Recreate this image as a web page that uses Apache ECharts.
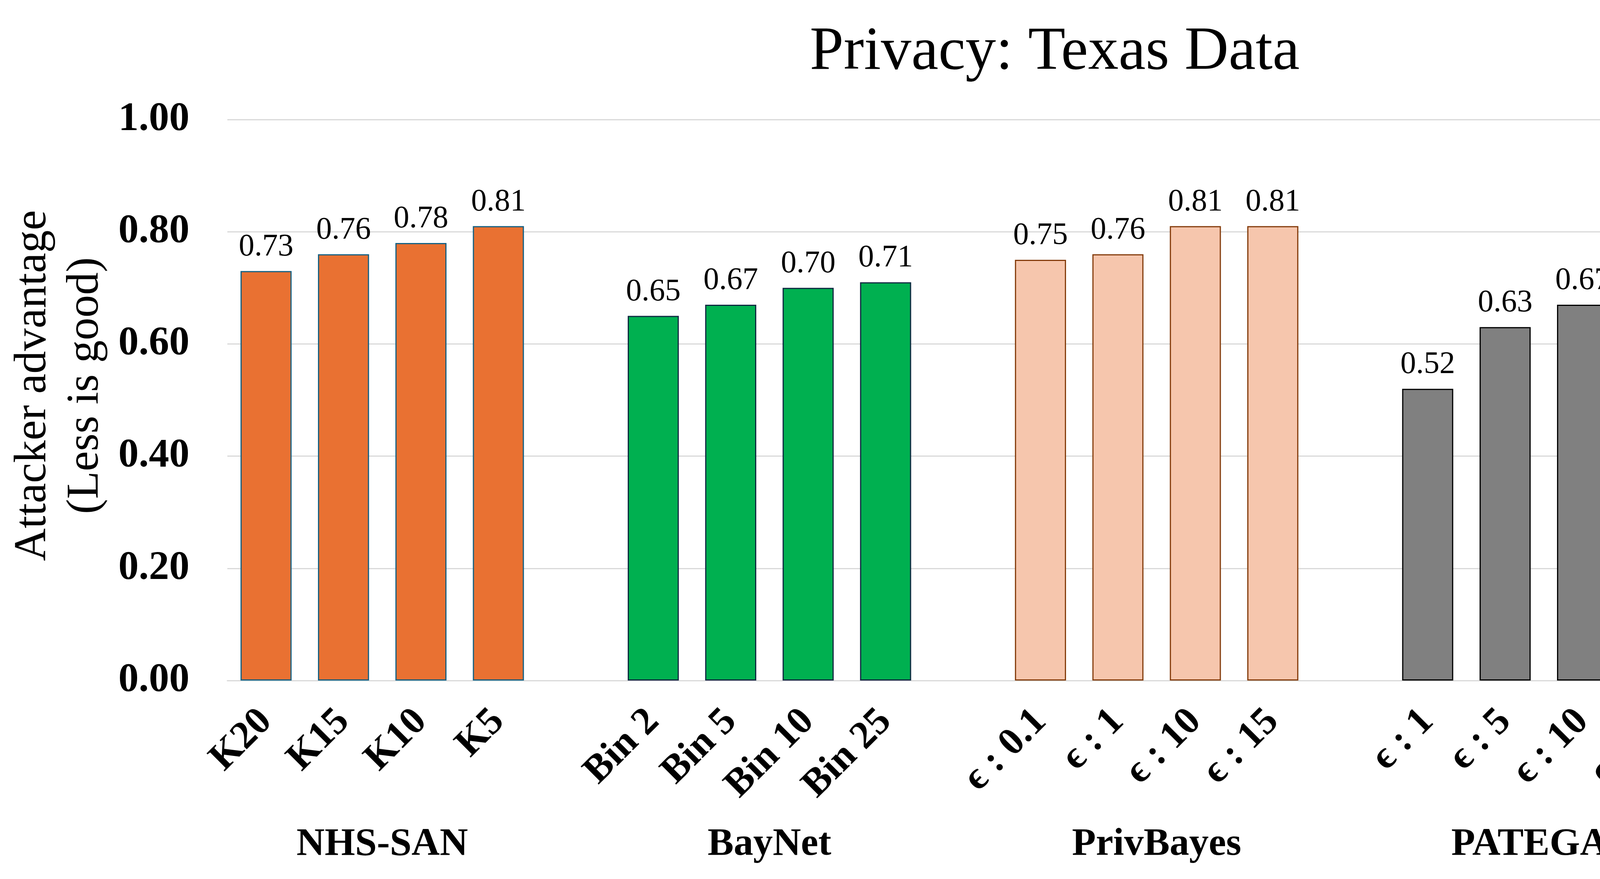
<!DOCTYPE html>
<html>
<head>
<meta charset="utf-8">
<script src="https://cdn.jsdelivr.net/npm/echarts@6/dist/echarts.min.js"></script>
<style>
html,body{margin:0;padding:0;background:#fff;}
#chart{width:5400px;height:2250px;}
</style>
</head>
<body>
<div id="chart"></div>
<script>
// ---- data ----
const categories = [
  'K20','K15','K10','K5','',
  'Bin 2','Bin 5','Bin 10','Bin 25','',
  'ϵ : 0.1','ϵ : 1','ϵ : 10','ϵ : 15','',
  'ϵ : 1','ϵ : 5','ϵ : 10','ϵ : 15','',
  'ts100','ts500','ts1000','ts1500'
];
const groupNames = ['NHS-SAN','BayNet','PrivBayes','PATEGAN','DDPM'];
const nhsSanValues    = [0.73, 0.76, 0.78, 0.81];
const bayNetValues    = [0.65, 0.67, 0.70, 0.71];
const privBayesValues = [0.75, 0.76, 0.81, 0.81];
const pateganValues   = [0.52, 0.63, 0.67, 0.67];
const ddpmValues      = [0.52, 0.50, 0.51, 0.51];
const nhsSanLabels    = ['0.73','0.76','0.78','0.81'];
const bayNetLabels    = ['0.65','0.67','0.70','0.71'];
const privBayesLabels = ['0.75','0.76','0.81','0.81'];
const pateganLabels   = ['0.52','0.63','0.67','0.67'];
const ddpmLabels      = ['0.52','0.5','0.51','0.51'];
const groupCenters = [1.5, 6.5, 11.5, 16.5, 21.5];

// ---- styles ----
const FONT = "'Liberation Serif', 'DejaVu Serif', serif";
const groupStyles = [
  {color:'#E97132', border:'#156082'},
  {color:'#00B050', border:'#0E2841'},
  {color:'#F6C6AD', border:'#843C0C'},
  {color:'#808080', border:'#000000'},
  {color:'#156082', border:'#0E2841'}
];
const groupValues = [nhsSanValues, bayNetValues, privBayesValues, pateganValues, ddpmValues];
const groupLabels = [nhsSanLabels, bayNetLabels, privBayesLabels, pateganLabels, ddpmLabels];

const series = groupValues.map(function (vals, g) {
  const data = categories.map(function () { return null; });
  vals.forEach(function (v, i) { data[g * 5 + i] = v; });
  return {
    name: groupNames[g],
    type: 'bar',
    stack: 'all',
    barWidth: '66%',
    data: data,
    itemStyle: {color: groupStyles[g].color, borderColor: groupStyles[g].border, borderWidth: 3},
    label: {
      show: true,
      position: 'top',
      distance: 21,
      fontFamily: FONT,
      fontSize: 80,
      color: '#000',
      formatter: function (p) { return groupLabels[g][p.dataIndex - g * 5]; }
    },
    emphasis: {disabled: true}
  };
});

const chart = echarts.init(document.getElementById('chart'), null, {renderer: 'canvas', devicePixelRatio: 1});
chart.setOption({
  animation: false,
  backgroundColor: '#fff',
  title: {
    text: 'Privacy: Texas Data',
    left: 'center',
    top: 52,
    textStyle: {fontFamily: FONT, fontSize: 156, fontWeight: 'normal', color: '#000'}
  },
  grid: {left: 582, right: 60, top: 306, bottom: 508, containLabel: false},
  xAxis: [
    {
      type: 'category',
      data: categories,
      axisLine: {show: true, lineStyle: {color: '#D9D9D9', width: 3}},
      axisTick: {show: false},
      axisLabel: {
        interval: 0,
        rotate: 45,
        margin: 90,
        fontFamily: FONT,
        fontSize: 100,
        fontWeight: 'bold',
        color: '#000'
      }
    },
    {
      type: 'value',
      position: 'bottom',
      min: -0.5,
      max: 23.5,
      axisLine: {show: false},
      axisTick: {show: false},
      splitLine: {show: false},
      axisLabel: {
        customValues: groupCenters,
        margin: 370,
        fontFamily: FONT,
        fontSize: 100,
        fontWeight: 'bold',
        color: '#000',
        formatter: function (v) {
          const i = groupCenters.indexOf(v);
          return i >= 0 ? groupNames[i] : '';
        }
      }
    }
  ],
  yAxis: {
    type: 'value',
    min: 0,
    max: 1,
    interval: 0.2,
    name: 'Attacker advantage\n(Less is good)',
    nameLocation: 'middle',
    nameGap: 295,
    nameRotate: 90,
    nameTextStyle: {fontFamily: FONT, fontSize: 116, color: '#000', lineHeight: 134, padding: [0, 0, 0, 74]},
    axisLine: {show: false},
    axisTick: {show: false},
    splitLine: {show: true, lineStyle: {color: '#D9D9D9', width: 3}},
    axisLabel: {
      margin: 97,
      fontFamily: FONT,
      fontSize: 104,
      fontWeight: 'bold',
      color: '#000',
      formatter: function (v) { return v.toFixed(2); }
    }
  },
  series: series
});
</script>
</body>
</html>
